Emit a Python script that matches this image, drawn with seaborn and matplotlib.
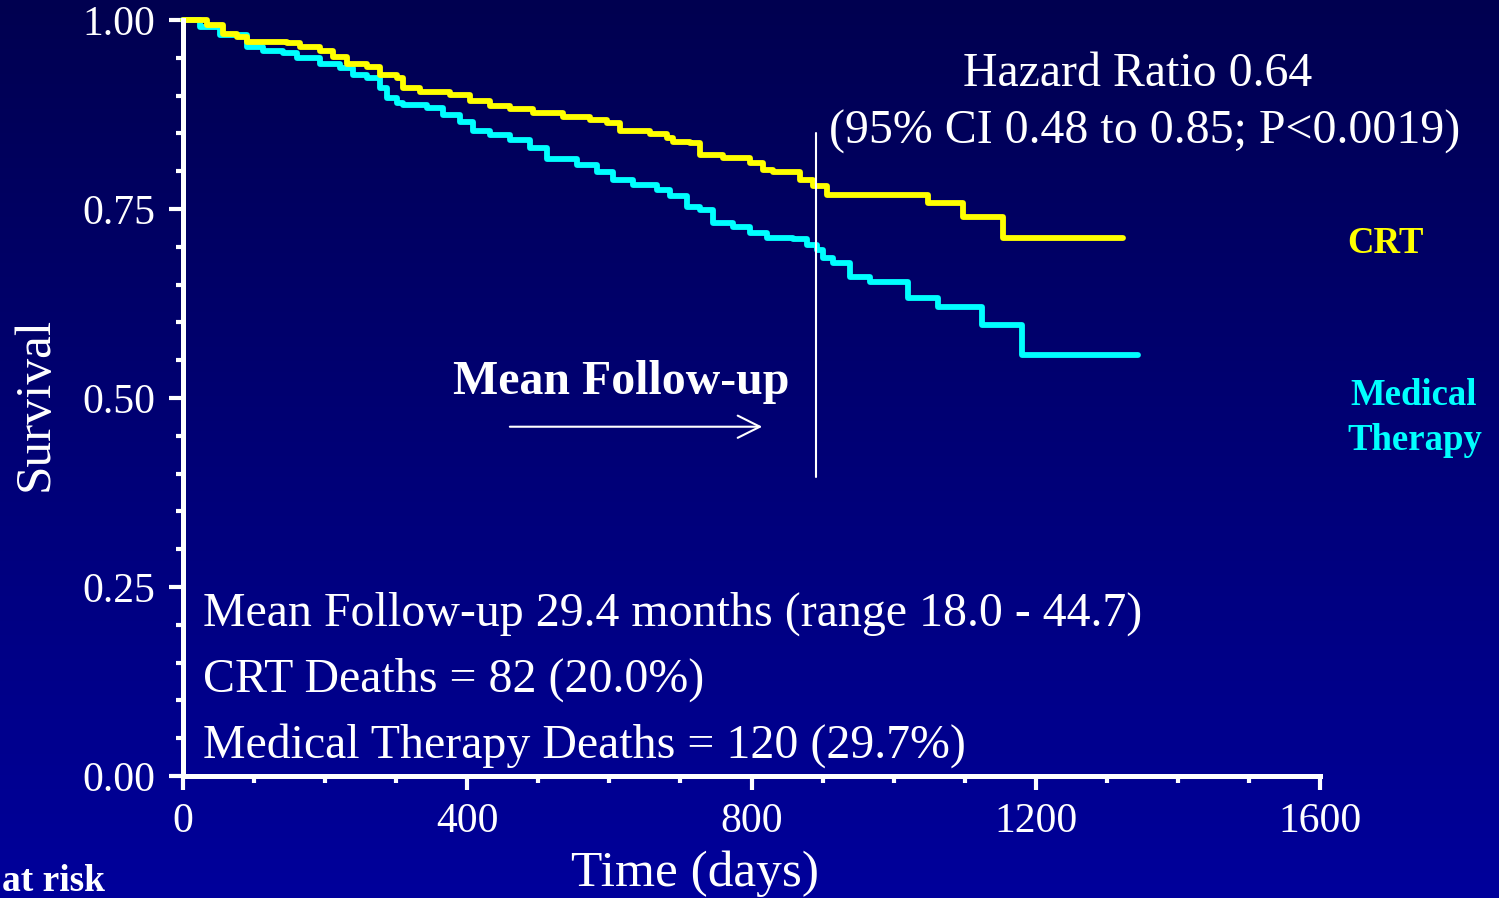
import numpy as np
import pandas as pd
import matplotlib.pyplot as plt
import seaborn as sns
from matplotlib.ticker import MultipleLocator

# --- Kaplan-Meier step points ---
crt_days = [0, 34, 56, 76, 90, 146, 165, 193, 211, 231, 259, 277, 301, 310, 334,
            376, 404, 432, 460, 493, 535, 573, 597, 615, 657, 681, 690, 714, 728,
            760, 798, 816, 830, 868, 887, 906, 1048, 1098, 1154, 1323]
crt_surv = [1.000, 0.993, 0.981, 0.977, 0.971, 0.970, 0.964, 0.959, 0.951, 0.942,
            0.938, 0.927, 0.923, 0.910, 0.905, 0.901, 0.893, 0.886, 0.882, 0.877,
            0.872, 0.868, 0.864, 0.853, 0.849, 0.844, 0.839, 0.837, 0.821, 0.817,
            0.811, 0.802, 0.799, 0.788, 0.780, 0.768, 0.758, 0.739, 0.712, 0.712]

med_days = [0, 24, 52, 90, 113, 141, 160, 193, 221, 239, 259, 277, 287, 301, 310,
            343, 366, 390, 408, 432, 460, 488, 512, 554, 583, 605, 633, 667, 685,
            709, 728, 746, 774, 798, 822, 858, 878, 892, 901, 915, 939, 967, 1020,
            1062, 1124, 1181, 1344]
med_surv = [1.000, 0.991, 0.980, 0.964, 0.959, 0.956, 0.950, 0.942, 0.936, 0.927,
            0.923, 0.910, 0.897, 0.890, 0.888, 0.884, 0.874, 0.865, 0.853, 0.848,
            0.841, 0.831, 0.816, 0.808, 0.799, 0.788, 0.782, 0.775, 0.767, 0.753,
            0.749, 0.731, 0.726, 0.718, 0.712, 0.710, 0.702, 0.696, 0.685, 0.678,
            0.660, 0.653, 0.632, 0.620, 0.597, 0.557, 0.557]

groups = ['Medical Therapy', 'CRT']
colors = {'CRT': '#FFFF00', 'Medical Therapy': '#00FFFF'}

mean_followup_days = 891
x_ticks = [0, 400, 800, 1200, 1600]
y_ticks = [0.00, 0.25, 0.50, 0.75, 1.00]

df = pd.concat([
    pd.DataFrame({'days': crt_days, 'survival': crt_surv, 'group': 'CRT'}),
    pd.DataFrame({'days': med_days, 'survival': med_surv, 'group': 'Medical Therapy'}),
])

sns.set_style('ticks')
plt.rcParams['font.family'] = ['Liberation Serif', 'DejaVu Serif']

fig = plt.figure(figsize=(14.99, 8.98), dpi=100)

# gradient background (dark navy top -> brighter blue bottom)
bg = fig.add_axes([0, 0, 1, 1], zorder=-10)
grad = np.linspace(0, 1, 256).reshape(-1, 1)
top = np.array([0, 0, 80]) / 255
bot = np.array([0, 0, 155]) / 255
img = top + (bot - top) * grad[:, :, None]
bg.imshow(img, aspect='auto', extent=[0, 1, 0, 1], origin='upper')
bg.axis('off')

ax = fig.add_axes([0.1221, 0.1359, 0.7585, 0.8418])
ax.set_facecolor('none')

sns.lineplot(data=df, x='days', y='survival', hue='group', hue_order=groups,
             palette=colors, estimator=None, sort=False, legend=False,
             drawstyle='steps-post', linewidth=4.2, clip_on=False, ax=ax)

ax.set_xlim(0, 1600)
ax.set_ylim(0, 1)
ax.set_xticks(x_ticks)
ax.set_yticks(y_ticks)
ax.set_yticklabels([f'{v:.2f}' for v in y_ticks])
ax.xaxis.set_minor_locator(MultipleLocator(100))
ax.yaxis.set_minor_locator(MultipleLocator(0.05))

for s in ['top', 'right']:
    ax.spines[s].set_visible(False)
for s in ['left', 'bottom']:
    ax.spines[s].set_color('white')
    ax.spines[s].set_linewidth(3.6)

ax.tick_params(which='major', colors='white', length=10, width=3, labelsize=30)
ax.tick_params(which='minor', colors='white', length=5, width=3)
ax.tick_params(axis='y', which='major', pad=10)
ax.tick_params(axis='x', which='major', pad=9)

ax.set_xlabel('Time (days)', color='white', fontsize=37)
ax.set_ylabel('Survival', color='white', fontsize=37)
ax.xaxis.set_label_coords(0.45, -0.129)
ax.xaxis.label.set_verticalalignment('center')
ax.yaxis.set_label_coords(-0.130, 0.492)
ax.yaxis.label.set_verticalalignment('center')

# mean follow-up marker
ax.plot([mean_followup_days, mean_followup_days], [0.395, 0.851], color='white', lw=1.5)
ax.text(616, 0.521, 'Mean Follow-up', color='white', fontsize=34.5, fontweight='bold',
        ha='center', va='center')
ax.annotate('', xy=(819, 0.462), xytext=(456, 0.462),
            arrowprops=dict(arrowstyle='->', color='white', lw=1.5,
                            mutation_scale=40))

ax.text(28, 0.215, 'Mean Follow-up 29.4 months (range 18.0 - 44.7)', color='white',
        fontsize=34.5, va='center')
ax.text(28, 0.127, 'CRT Deaths = 82 (20.0%)', color='white', fontsize=34.5, va='center')
ax.text(28, 0.040, 'Medical Therapy Deaths = 120 (29.7%)', color='white',
        fontsize=34.5, va='center')

fig.text(0.7592, 0.9175, 'Hazard Ratio 0.64', color='white', fontsize=34.5,
         ha='center', va='center')
fig.text(0.7638, 0.8530, '(95% CI 0.48 to 0.85; P<0.0019)', color='white',
         fontsize=34.5, ha='center', va='center')

fig.text(0.8986, 0.7290, 'CRT', color=colors['CRT'], fontsize=26.5,
         fontweight='bold', va='center')
fig.text(0.9006, 0.5600, 'Medical', color=colors['Medical Therapy'], fontsize=26.5,
         fontweight='bold', va='center')
fig.text(0.8986, 0.5090, 'Therapy', color=colors['Medical Therapy'], fontsize=26.5,
         fontweight='bold', va='center')
fig.text(0.0013, 0.018, 'at risk', color='white', fontsize=27, fontweight='bold',
         va='center')

fig.savefig('out.png', dpi=100)
